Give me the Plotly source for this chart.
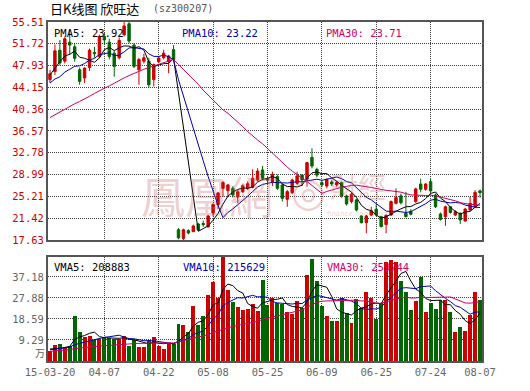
import plotly.graph_objects as go

# ---------------- data ----------------
dates = ["03-20", "03-23", "03-24", "03-25", "03-26", "03-27", "03-30", "03-31", "04-01", "04-02",
         "04-03", "04-07", "04-08", "04-09", "04-10", "04-13", "04-14", "04-15", "04-16", "04-17",
         "04-20", "04-21", "04-22", "04-23", "04-24", "04-27", "04-28", "04-29", "04-30", "05-04",
         "05-05", "05-06", "05-07", "05-08", "05-11", "05-12", "05-13", "05-14", "05-15", "05-18",
         "05-19", "05-20", "05-21", "05-22", "05-25", "05-26", "05-27", "05-28", "05-29", "06-01",
         "06-02", "06-03", "06-04", "06-05", "06-08", "06-09", "06-10", "06-11", "06-12", "06-15",
         "06-16", "06-17", "06-18", "06-19", "06-23", "06-24", "06-25", "06-26", "06-29", "06-30",
         "07-01", "07-02", "07-03", "07-06", "07-07", "07-08", "07-09", "07-24", "07-27", "07-28",
         "07-29", "07-30", "07-31", "08-03", "08-04", "08-05", "08-06", "08-07"]

open_ = [45.5, 46.9, 50.6, 48.7, 52.0, 51.2, 47.2, 45.8, 47.6, 50.2,
         49.5, 53.0, 52.0, 50.1, 49.3, 53.3, 55.2, 51.5, 47.2, 48.7,
         48.7, 45.5, 48.6, 49.3, 48.7, 50.7, 19.4, 17.9, 19.25, 19.07,
         20.4, 20.5, 19.9, 22.3, 23.8, 26.6, 26.2, 26.6, 25.1, 26.0,
         26.6, 26.8, 28.05, 29.8, 28.3, 27.77, 28.64, 27.19, 24.7, 25.85,
         27.48, 28.92, 28.17, 31.99, 29.9, 27.6, 27.0, 27.7, 27.2, 27.59,
         25.28, 24.3, 24.58, 21.8, 20.64, 21.97, 22.96, 21.68, 20.3, 21.97,
         24.0, 25.3, 22.27, 22.6, 24.3, 27.35, 26.43, 27.77, 25.45, 22.15,
         21.68, 23.4, 21.97, 22.27, 20.93, 22.84, 23.4, 26.15]
high = [47.2, 51.6, 52.4, 53.0, 54.2, 51.8, 47.6, 47.6, 50.9, 51.2,
        53.3, 53.6, 52.6, 50.5, 52.8, 55.5, 55.5, 51.8, 49.3, 50.0,
        49.3, 48.3, 49.5, 50.7, 49.8, 51.5, 19.7, 19.6, 19.5, 20.3,
        20.6, 21.0, 22.0, 24.0, 26.0, 27.9, 27.4, 27.0, 26.3, 27.3,
        27.8, 29.9, 30.1, 30.5, 28.6, 29.5, 29.0, 27.4, 26.3, 28.3,
        29.5, 29.0, 31.2, 33.56, 30.2, 28.0, 28.3, 28.1, 27.9, 27.8,
        25.5, 25.9, 24.8, 21.9, 22.0, 23.4, 23.8, 21.8, 22.1, 24.5,
        26.6, 25.7, 26.0, 23.0, 26.7, 28.3, 27.5, 28.3, 25.7, 22.4,
        23.6, 23.5, 22.8, 22.4, 23.2, 25.1, 26.3, 26.4]
low = [44.9, 46.3, 48.0, 48.3, 49.8, 48.6, 44.6, 44.9, 47.0, 49.3,
       49.2, 51.5, 49.0, 46.0, 49.0, 53.0, 51.8, 47.5, 44.6, 48.3,
       44.1, 44.3, 48.4, 49.0, 46.6, 48.9, 17.75, 17.63, 18.6, 19.0,
       19.2, 19.9, 19.8, 21.7, 23.0, 25.1, 25.1, 25.0, 24.0, 25.8,
       26.3, 26.6, 27.8, 28.0, 27.5, 27.0, 26.3, 24.3, 23.4, 25.6,
       27.2, 27.0, 26.9, 30.08, 28.5, 26.8, 26.6, 27.0, 26.9, 25.0,
       23.6, 24.0, 22.6, 20.5, 18.8, 21.8, 21.8, 19.8, 18.8, 21.8,
       23.8, 23.8, 21.5, 21.9, 24.1, 25.9, 26.2, 26.0, 23.2, 21.0,
       20.1, 22.2, 21.8, 20.4, 20.8, 22.7, 23.2, 25.0]
close = [46.5, 50.5, 48.4, 52.6, 51.5, 49.2, 45.2, 47.5, 50.6, 50.0,
         53.0, 52.4, 49.5, 47.8, 52.3, 54.8, 52.2, 47.8, 49.0, 49.3,
         44.6, 48.1, 49.25, 50.1, 49.6, 49.0, 18.0, 19.4, 18.85, 20.06,
         19.4, 20.3, 21.8, 23.8, 25.8, 27.6, 27.2, 25.45, 26.0, 27.07,
         27.4, 28.35, 29.6, 28.35, 28.0, 29.04, 26.61, 24.87, 26.03, 28.06,
         28.75, 28.06, 31.07, 30.49, 28.9, 27.2, 28.17, 27.36, 27.6, 25.28,
         23.9, 25.6, 22.84, 20.64, 21.8, 22.7, 21.97, 19.95, 21.9, 24.3,
         25.0, 24.1, 21.7, 22.1, 26.5, 26.43, 27.35, 26.15, 23.4, 21.2,
         23.4, 22.4, 22.55, 21.1, 23.0, 24.0, 25.9, 25.85]

pma5 = [46.3, 47.5, 48.6, 49.6, 49.9, 50.44, 49.38, 49.2, 48.8, 48.5,
        49.26, 50.7, 51.1, 50.54, 51.0, 51.36, 51.32, 50.98, 51.22, 50.62,
        48.58, 47.76, 48.05, 48.27, 48.33, 49.21, 43.19, 37.22, 30.97, 25.06,
        19.14, 19.6, 20.08, 21.07, 22.22, 23.86, 25.24, 25.97, 26.41, 26.66,
        26.62, 26.85, 27.68, 28.15, 28.34, 28.67, 28.32, 27.37, 26.91, 26.92,
        26.86, 27.15, 28.39, 29.29, 29.45, 29.14, 29.17, 28.42, 27.85, 27.12,
        26.46, 25.95, 25.04, 23.65, 22.96, 22.72, 21.99, 21.41, 21.66, 22.16,
        22.62, 23.05, 23.4, 23.44, 23.88, 24.17, 24.82, 25.71, 25.97, 24.91,
        24.3, 23.31, 22.59, 22.13, 22.49, 22.61, 23.31, 23.97]
pma10 = [44.9, 45.6, 46.0, 46.8, 47.3, 47.8, 47.9, 48.3, 48.9, 49.2,
         49.85, 50.04, 50.15, 49.67, 49.75, 50.31, 51.01, 51.04, 50.88, 50.81,
         49.97, 49.54, 49.52, 49.75, 49.48, 48.9, 45.48, 42.64, 39.62, 36.7,
         34.18, 31.4, 28.65, 26.02, 23.64, 21.5, 22.42, 23.03, 23.74, 24.44,
         25.24, 26.05, 26.83, 27.28, 27.5, 27.65, 27.59, 27.53, 27.53, 27.63,
         27.77, 27.74, 27.88, 28.1, 28.19, 28.0, 28.16, 28.41, 28.57, 28.29,
         27.8, 27.56, 26.73, 25.75, 25.04, 24.59, 23.97, 23.23, 22.66, 22.56,
         22.67, 22.52, 22.41, 22.55, 23.02, 23.4, 23.93, 24.55, 24.7, 24.39,
         24.23, 24.06, 24.15, 24.05, 23.7, 23.46, 23.31, 23.28]
pma30 = [38.9, 39.4, 39.9, 40.4, 40.9, 41.3, 41.7, 42.1, 42.6, 43.1,
         43.6, 44.0, 44.4, 44.9, 45.3, 45.8, 46.2, 46.6, 47.0, 47.3,
         47.6, 47.9, 48.2, 48.5, 48.8, 49.0, 48.12, 47.27, 46.4, 45.57,
         44.67, 43.66, 42.78, 41.82, 40.96, 40.24, 39.64, 38.91, 38.09, 37.32,
         36.47, 35.67, 35.0, 34.36, 33.55, 32.69, 31.83, 31.07, 30.3, 29.6,
         29.07, 28.4, 27.79, 27.14, 26.45, 25.72, 26.06, 26.32, 26.61, 26.79,
         26.94, 27.12, 27.15, 27.05, 26.91, 26.75, 26.58, 26.39, 26.26, 26.16,
         26.08, 25.94, 25.68, 25.47, 25.42, 25.33, 25.36, 25.4, 25.31, 25.08,
         24.9, 24.71, 24.43, 24.12, 23.92, 23.81, 23.74, 23.69]

volume = [4.4, 7.2, 7.7, 6.2, 6.8, 19.7, 13.0, 10.6, 11.2, 9.4,
          9.7, 10.6, 10.2, 9.7, 9.9, 11.2, 6.8, 9.4, 6.2, 6.2,
          9.4, 10.8, 6.5, 5.4, 7.7, 7.7, 16.5, 16.1, 12.7, 24.2,
          16.1, 20.1, 29.4, 34.8, 27.9, 46.3, 31.6, 26.0, 23.7, 22.6,
          23.2, 25.0, 22.3, 36.0, 24.9, 27.8, 25.5, 25.2, 21.6, 20.6,
          26.5, 23.5, 38.2, 45.3, 35.3, 24.2, 20.1, 17.8, 17.8, 28.0,
          21.2, 16.8, 27.6, 23.6, 30.4, 27.9, 18.7, 25.7, 43.8, 44.8,
          43.8, 35.3, 30.4, 22.7, 26.7, 37.0, 21.5, 25.7, 23.2, 27.1,
          27.1, 21.5, 12.7, 14.9, 13.1, 20.2, 30.4, 27.1]
vma5 = [5.3, 5.3, 5.6, 6.0, 6.46, 9.52, 10.68, 11.26, 12.26, 12.78,
        10.78, 10.3, 10.22, 9.92, 10.02, 10.32, 9.56, 9.4, 8.7, 7.96,
        7.6, 8.4, 7.82, 7.66, 7.96, 7.62, 8.76, 10.68, 12.14, 15.44,
        17.12, 17.84, 20.5, 24.92, 25.66, 31.7, 34.0, 33.32, 31.1, 30.04,
        25.42, 24.1, 23.36, 25.82, 26.28, 27.2, 27.3, 27.88, 25.0, 24.14,
        23.88, 23.48, 26.08, 30.82, 33.76, 33.3, 32.62, 28.54, 23.04, 21.58,
        20.98, 20.32, 22.28, 23.44, 23.92, 25.26, 25.64, 25.26, 29.3, 32.18,
        35.36, 38.68, 39.62, 35.4, 31.78, 30.42, 27.66, 26.72, 26.82, 26.9,
        24.92, 24.92, 22.32, 20.66, 17.86, 16.48, 18.26, 21.14]
vma10 = [5.0, 5.2, 5.5, 5.8, 6.2, 7.2, 7.8, 8.4, 9.0, 9.62,
         10.15, 10.49, 10.74, 11.09, 11.4, 10.55, 9.93, 9.81, 9.31, 8.99,
         8.96, 8.98, 8.61, 8.18, 7.96, 7.61, 8.58, 9.25, 9.9, 11.7,
         12.37, 13.3, 15.59, 18.53, 20.55, 24.41, 25.92, 26.91, 28.01, 27.85,
         28.56, 29.05, 28.34, 28.46, 28.16, 26.31, 25.7, 25.62, 25.41, 25.21,
         25.54, 25.39, 26.98, 27.91, 28.95, 28.59, 28.05, 27.31, 26.93, 27.67,
         27.14, 26.47, 25.41, 23.24, 22.75, 23.12, 22.98, 23.77, 26.37, 28.05,
         30.31, 32.16, 32.44, 32.35, 31.98, 32.89, 33.17, 33.17, 31.11, 29.34,
         27.67, 26.29, 24.52, 23.74, 22.38, 20.7, 21.59, 21.73]
vma30 = [4.3, 4.4, 4.6, 4.8, 5.0, 5.5, 5.8, 6.0, 6.2, 6.4,
         6.6, 6.8, 7.0, 7.1, 7.3, 7.5, 7.6, 7.7, 7.8, 7.9,
         8.0, 8.0, 8.0, 8.0, 8.0, 8.0, 8.5, 9.0, 9.5, 10.1,
         10.49, 10.92, 11.65, 12.6, 13.3, 14.19, 14.81, 15.32, 15.74, 16.18,
         16.63, 17.11, 17.51, 18.39, 18.89, 19.44, 20.07, 20.59, 21.11, 21.59,
         22.16, 22.58, 23.64, 24.97, 25.89, 26.44, 26.56, 26.61, 26.78, 26.91,
         27.08, 26.97, 26.91, 26.54, 26.62, 26.01, 25.58, 25.57, 26.24, 26.98,
         27.66, 28.01, 28.28, 27.83, 27.89, 28.2, 28.07, 28.08, 28.14, 28.35,
         28.37, 28.31, 27.46, 26.44, 25.7, 25.57, 25.91, 26.22]

price_ticks = [17.63, 21.42, 25.21, 28.99, 32.78, 36.57, 40.36, 44.15, 47.93, 51.72, 55.51]
volume_ticks = [9.29, 18.59, 27.88, 37.18]
tick_dates = ["03-20", "04-07", "04-22", "05-08", "05-25", "06-09", "06-25", "07-24", "08-07"]
tick_labels = ["15-03-20", "04-07", "04-22", "05-08", "05-25", "06-09", "06-25", "07-24", "08-07"]
label_texts = {"PMA5": "23.92", "PMA10": "23.22", "PMA30": "23.71",
               "VMA5": "208883", "VMA10": "215629", "VMA30": "259744"}

# ---------------- styling ----------------
RED = "#cc0000"
GREEN = "#006600"
C5, C10, C30 = "#000000", "#0000aa", "#cc0066"
MONO = "DejaVu Sans Mono"
GRID = "#444444"
DOT = "1px,1px"

idx = list(range(len(dates)))
tick_pos = [dates.index(d) for d in tick_dates]
grid_pos = tick_pos[1:-1]
bar_colors = [RED if c >= o else GREEN for o, c in zip(open_, close)]

fig = go.Figure()
fig.add_trace(go.Candlestick(
    x=idx, open=open_, high=high, low=low, close=close,
    increasing=dict(line=dict(color=RED, width=1), fillcolor=RED),
    decreasing=dict(line=dict(color=GREEN, width=1), fillcolor=GREEN),
    whiskerwidth=0, xaxis="x", yaxis="y", hoverinfo="skip"))
for ma, col in [(pma5, C5), (pma10, C10), (pma30, C30)]:
    fig.add_trace(go.Scatter(x=idx, y=ma, mode="lines", line=dict(color=col, width=1),
                             xaxis="x", yaxis="y", hoverinfo="skip"))
fig.add_trace(go.Bar(x=idx, y=volume, width=0.8, marker=dict(color=bar_colors, line=dict(width=0)),
                     xaxis="x2", yaxis="y2", hoverinfo="skip"))
for ma, col in [(vma5, C5), (vma10, C10), (vma30, C30)]:
    fig.add_trace(go.Scatter(x=idx, y=ma, mode="lines", line=dict(color=col, width=1),
                             xaxis="x2", yaxis="y2", hoverinfo="skip"))

frame = dict(showline=True, mirror=True, linecolor="#555555", linewidth=2, zeroline=False, ticks="")
xr = [-0.4, len(dates) - 0.6]

fig.update_layout(
    width=530, height=391,
    margin=dict(l=43, r=48, t=22, b=30),
    paper_bgcolor="white", plot_bgcolor="white",
    showlegend=False, hovermode=False,
    xaxis=dict(domain=[0, 1], anchor="y", range=xr, tickmode="array", tickvals=grid_pos,
               showticklabels=False, showgrid=True, gridcolor=GRID, griddash=DOT, gridwidth=1,
               rangeslider=dict(visible=False), **frame),
    yaxis=dict(domain=[0.357, 1], anchor="x", range=[price_ticks[0], price_ticks[-1]],
               tickmode="array", tickvals=price_ticks, ticktext=[f"{v:.2f}" for v in price_ticks],
               tickfont=dict(family=MONO, size=10.5, color=RED),
               showgrid=True, gridcolor=GRID, griddash=DOT, gridwidth=1, **frame),
    xaxis2=dict(domain=[0, 1], anchor="y2", range=xr, tickmode="array", tickvals=tick_pos,
                ticktext=tick_labels, tickfont=dict(family=MONO, size=10.5, color="#666666"),
                showgrid=False,
                minor=dict(tickmode="array", tickvals=grid_pos, showgrid=True, gridcolor=GRID,
                           griddash=DOT, gridwidth=1, ticks=""),
                **frame),
    yaxis2=dict(domain=[0, 0.3068], anchor="x2", range=[0, 46.0], tickmode="array",
                tickvals=volume_ticks, ticktext=[f"{v:.2f}" for v in volume_ticks],
                tickfont=dict(family=MONO, size=10.5, color="#666666"),
                showgrid=True, gridcolor=GRID, griddash=DOT, gridwidth=1, **frame),
    bargap=0,
)

def px_x(x):
    return (x - 43) / 439.0

def px_y(y):
    return (361 - y) / 339.0

ann = []
# watermark
wm = "rgba(200,90,90,0.30)"
ann.append(dict(text="鳳凰網", x=px_x(204), y=px_y(195), font=dict(family="Noto Sans CJK TC", size=44, color=wm)))
ann.append(dict(text="◎", x=px_x(307), y=px_y(192), font=dict(family="DejaVu Sans", size=40, color=wm)))
ann.append(dict(text="財經", x=px_x(357), y=px_y(186), font=dict(family="Noto Sans CJK TC", size=28, color=wm)))
ann.append(dict(text="finance.ifeng.com", x=px_x(357), y=px_y(214), font=dict(family="DejaVu Sans", size=7, color=wm)))
# title
ann.append(dict(text="日K线图 欣旺达", x=px_x(43), y=px_y(8), xanchor="left",
                font=dict(family="Noto Sans CJK SC", size=13, color="#000000")))
ann.append(dict(text="(sz300207)", x=px_x(147), y=px_y(8), xanchor="left",
                font=dict(family=MONO, size=10, color="#555555")))
# indicator labels
for name, xpx, col in [("PMA5", 47, C5), ("PMA10", 177, C10), ("PMA30", 322, C30)]:
    ann.append(dict(text=f"{name}: {label_texts[name]}", x=px_x(xpx), y=px_y(32.5), xanchor="left",
                    font=dict(family=MONO, size=10.5, color=col)))
for name, xpx, col in [("VMA5", 47, C5), ("VMA10", 178, C10), ("VMA30", 323, C30)]:
    ann.append(dict(text=f"{name}: {label_texts[name]}", x=px_x(xpx), y=px_y(266.5), xanchor="left",
                    font=dict(family=MONO, size=10.5, color=col)))
ann.append(dict(text="万", x=px_x(41.5), y=px_y(352), xanchor="right",
                font=dict(family="Noto Sans CJK SC", size=10, color="#666666")))
for a in ann:
    a.update(xref="paper", yref="paper", showarrow=False)
    a.setdefault("xanchor", "center")
    a.setdefault("yanchor", "middle")
fig.update_layout(annotations=ann)

fig.write_html("out.html",
               config={"displayModeBar": False, "staticPlot": True},
               post_script="document.body.style.margin='0';document.body.style.overflow='hidden';")
